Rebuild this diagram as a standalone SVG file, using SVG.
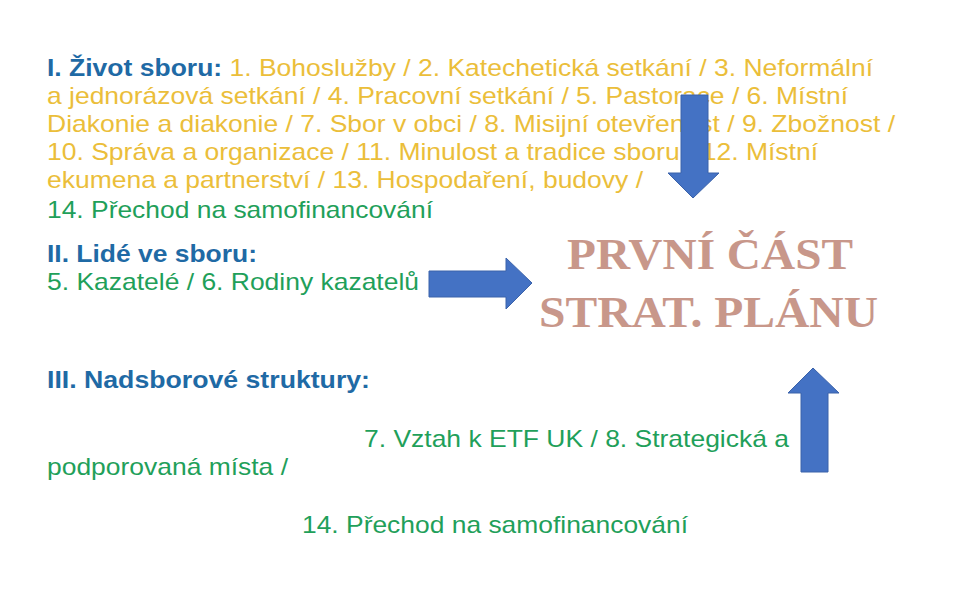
<svg xmlns="http://www.w3.org/2000/svg" width="959" height="595" viewBox="0 0 959 595">
<style>
.t{font-family:"Liberation Sans",Arial,sans-serif;font-size:24px}
.h{font-weight:bold;fill:#1F6AA5}
.y{fill:#EBBE3A}
.g{fill:#1FA05A}
.title{font-family:"Liberation Serif","Times New Roman",serif;font-size:45px;font-weight:bold;fill:#C8978A}
.arr{fill:#4472C4;stroke:#3A62AA;stroke-width:1}
</style>
<rect width="959" height="595" fill="#ffffff"/>
<g id="section1">
<text class="t" x="47" y="76" textLength="826" lengthAdjust="spacingAndGlyphs"><tspan class="h">I. Život sboru:</tspan><tspan class="y"> 1. Bohoslužby / 2. Katechetická setkání / 3. Neformální</tspan></text>
<text class="t y" x="47" y="104" textLength="801" lengthAdjust="spacingAndGlyphs">a jednorázová setkání / 4. Pracovní setkání / 5. Pastorace / 6. Místní</text>
<text class="t y" x="47" y="132" textLength="848" lengthAdjust="spacingAndGlyphs">Diakonie a diakonie / 7. Sbor v obci / 8. Misijní otevřenost / 9. Zbožnost /</text>
<text class="t y" x="47" y="160" textLength="771" lengthAdjust="spacingAndGlyphs">10. Správa a organizace / 11. Minulost a tradice sboru / 12. Místní</text>
<text class="t y" x="47" y="188" textLength="596" lengthAdjust="spacingAndGlyphs">ekumena a partnerství / 13. Hospodaření, budovy /</text>
<text class="t g" x="47" y="218" textLength="386" lengthAdjust="spacingAndGlyphs">14. Přechod na samofinancování</text>
</g>
<g id="section2">
<text class="t h" x="47" y="262" textLength="210" lengthAdjust="spacingAndGlyphs">II. Lidé ve sboru:</text>
<text class="t g" x="47" y="290" textLength="372" lengthAdjust="spacingAndGlyphs">5. Kazatelé / 6. Rodiny kazatelů</text>
</g>
<g id="section3">
<text class="t h" x="47" y="388" textLength="323" lengthAdjust="spacingAndGlyphs">III. Nadsborové struktury:</text>
<text class="t g" x="364" y="447" textLength="425" lengthAdjust="spacingAndGlyphs">7. Vztah k ETF UK / 8. Strategická a</text>
<text class="t g" x="47" y="475" textLength="241" lengthAdjust="spacingAndGlyphs">podporovaná místa /</text>
<text class="t g" x="302" y="533" textLength="386" lengthAdjust="spacingAndGlyphs">14. Přechod na samofinancování</text>
</g>
<g id="center">
<text class="title" x="567" y="269" textLength="286" lengthAdjust="spacingAndGlyphs">PRVNÍ ČÁST</text>
<text class="title" x="539" y="327" textLength="339" lengthAdjust="spacingAndGlyphs">STRAT. PLÁNU</text>
</g>
<g id="connectors">
<path class="arr" d="M681,95 H708 V173 H719 L693,198 L668,173 H681 Z"/>
<path class="arr" d="M429,271 H506 V258 L532,283 L506,309 V297 H429 Z"/>
<path class="arr" d="M801,472 V393 H788 L813,368 L839,393 H828 V472 Z"/>
</g>
</svg>
